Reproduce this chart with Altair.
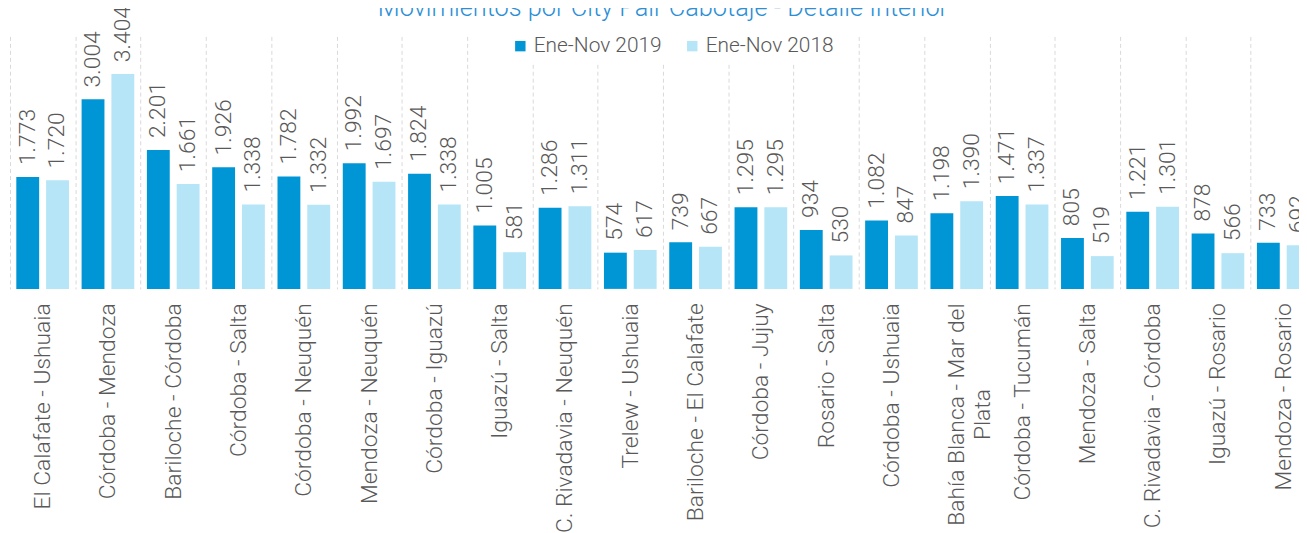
import altair as alt
import pandas as pd

categorias = [
    "El Calafate - Ushuaia", "Córdoba - Mendoza", "Bariloche - Córdoba", "Córdoba - Salta",
    "Córdoba - Neuquén", "Mendoza - Neuquén", "Córdoba - Iguazú", "Iguazú - Salta",
    "C. Rivadavia - Neuquén", "Trelew - Ushuaia", "Bariloche - El Calafate", "Córdoba - Jujuy",
    "Rosario - Salta", "Córdoba - Ushuaia", "Bahía Blanca - Mar del Plata", "Córdoba - Tucumán",
    "Mendoza - Salta", "C. Rivadavia - Córdoba", "Iguazú - Rosario", "Mendoza - Rosario",
]
valores_2019 = [1773, 3004, 2201, 1926, 1782, 1992, 1824, 1005, 1286, 574,
                739, 1295, 934, 1082, 1198, 1471, 805, 1221, 878, 733]
valores_2018 = [1720, 3404, 1661, 1338, 1332, 1697, 1338, 581, 1311, 617,
                667, 1295, 530, 847, 1390, 1337, 519, 1301, 566, 692]
series = ["Ene-Nov 2019", "Ene-Nov 2018"]
colores = ["#0096D6", "#B5E5F7"]
titulo = "Movimientos por City Pair Cabotaje - Detalle Interior"

rows = []
for i, c in enumerate(categorias):
    for s, vals in zip(series, [valores_2019, valores_2018]):
        v = vals[i]
        rows.append({"ruta": c, "serie": s, "valor": v,
                     "etiqueta": f"{v:,}".replace(",", ".")})
df = pd.DataFrame(rows)

FONT = "Roboto"
GRAY = "#595959"

largo = "Bahía Blanca - Mar del Plata"
test_largo = f"datum.value == '{largo}'"
label_expr = (f"datum.label == '{largo}' ? "
              "['Bahía Blanca - Mar del', 'Plata'] : datum.label")

x_enc = alt.X(
    "ruta:N", sort=categorias,
    scale=alt.Scale(range=[0, 1314], paddingInner=0, paddingOuter=0),
    axis=alt.Axis(
        title=None, labelAngle=270,
        labelAlign={"condition": {"test": test_largo, "value": "center"}, "value": "right"},
        labelPadding={"condition": {"test": test_largo, "value": 126}, "value": 14},
        labelBaseline="middle",
        ticks=False, domain=False, grid=True, tickBand="extent",
        gridDash=[4, 3], gridColor="#D9D9D9", gridWidth=1,
        labelFont=FONT, labelFontSize=23, labelFontWeight=300, labelColor=GRAY,
        labelLimit=400, labelOverlap=False, labelExpr=label_expr, labelLineHeight=26,
    ),
)
y_enc = alt.Y("valor:Q", scale=alt.Scale(domain=[0, 4000]), axis=None)
xo_enc = alt.XOffset("serie:N", sort=series,
                     scale=alt.Scale(domain=series, paddingInner=0.233, paddingOuter=0.212))

base = alt.Chart(df)

bars = base.mark_bar().encode(
    x=x_enc, y=y_enc, xOffset=xo_enc,
    color=alt.Color(
        "serie:N", sort=series,
        scale=alt.Scale(domain=series, range=colores),
        legend=alt.Legend(
            title=None, orient="none", legendX=495, legendY=-9, direction="horizontal",
            symbolType="square", symbolSize=110, symbolStrokeWidth=0,
            labelFont=FONT, labelFontSize=21, labelFontWeight=300, labelColor=GRAY,
            labelOffset=3, columnPadding=20, fillColor="white", padding=8,
        ),
    ),
)

labels = base.mark_text(
    angle=270, align="left", baseline="middle", dx=12,
    font=FONT, fontSize=23, fontWeight=300, color=GRAY,
).encode(x=x_enc, y=y_enc, xOffset=xo_enc, text="etiqueta:N")

title_layer = alt.Chart(pd.DataFrame({"t": [titulo]})).mark_text(
    align="center", baseline="alphabetic", font=FONT, fontSize=25.5, fontWeight=300,
    color="#2C8FD6",
).encode(text="t:N", x=alt.value(657), y=alt.value(-21))

chart = alt.layer(bars, labels, title_layer).properties(
    width=1297, height=254,
    autosize=alt.AutoSizeParams(type="none"),
    padding={"left": 2, "top": 27, "right": 0, "bottom": 244},
).configure_view(stroke=None)

chart.save("out.html", embed_options={"renderer": "svg", "actions": False})
